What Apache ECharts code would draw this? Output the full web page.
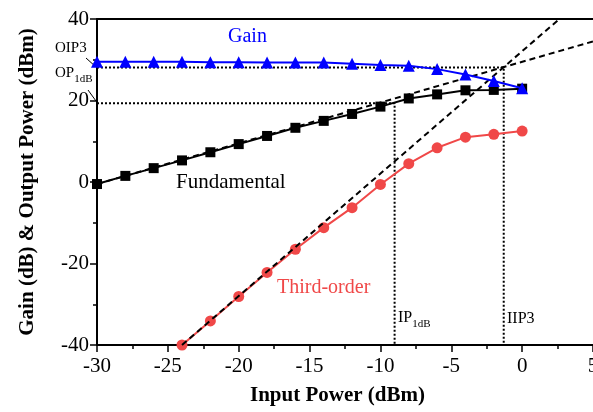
<!DOCTYPE html>
<html>
<head>
<meta charset="utf-8">
<script src="https://cdn.jsdelivr.net/npm/echarts@6/dist/echarts.min.js"></script>
<style>
  html, body { margin: 0; padding: 0; background: #fff; overflow: hidden; }
  #chart { width: 593px; height: 412px; }
</style>
</head>
<body>
<div id="chart"></div>
<script>
const inputPower = [-30, -28, -26, -24, -22, -20, -18, -16, -14, -12, -10, -8, -6, -4, -2, 0]
const gain = [29.5, 29.5, 29.5, 29.5, 29.4, 29.4, 29.3, 29.3, 29.3, 29.0, 28.7, 28.5, 27.7, 26.4, 24.8, 23.0]
const fundamental = [-0.5, 1.5, 3.4, 5.3, 7.3, 9.3, 11.3, 13.3, 15.0, 16.7, 18.5, 20.5, 21.5, 22.5, 22.6, 22.9]
const thirdX = [-24, -22, -20, -18, -16, -14, -12, -10, -8, -6, -4, -2, 0]
const thirdOrder = [-40, -34.1, -28.1, -22.2, -16.5, -11.2, -6.3, -0.6, 4.5, 8.4, 11.0, 11.7, 12.5]

// linear extrapolations (slope 1 and slope 3)
const fundFitX = [-30, 5]
const fundFitY = [-0.5, 34.5]
const thirdFitX = [-24, 2.63]
const thirdFitY = [-40, 40]

// intercept / compression points
const iip3 = -1.3
const oip3 = 28.1
const ip1db = -9
const op1db = 19.3

const xTicks = [-30, -25, -20, -15, -10, -5, 0, 5]
const yTicks = [-40, -20, 0, 20, 40]

const serif = '"Liberation Serif", "Times New Roman", serif'
const pairs = (xs, ys) => xs.map((x, i) => [x, ys[i]])

const chart = echarts.init(document.getElementById('chart'))

const baseAxis = {
  axisLine: { show: true, onZero: false, lineStyle: { color: '#000', width: 2 } },
  axisTick: { show: true, inside: false, length: 7, lineStyle: { color: '#000', width: 1.5 } },
  minorTick: { show: true, splitNumber: 2, length: 4, lineStyle: { color: '#000', width: 1.5 } },
  splitLine: { show: false },
  axisLabel: { color: '#000', fontFamily: serif, fontSize: 21 },
  nameTextStyle: { color: '#000', fontFamily: serif, fontSize: 21, fontWeight: 'bold' },
}

chart.setOption({
  animation: false,
  backgroundColor: '#fff',
  grid: { left: 97, right: 0, top: 19, bottom: 67, containLabel: false, outerBoundsMode: 'none' },
  xAxis: [{
    ...baseAxis,
    type: 'value',
    min: xTicks[0],
    max: xTicks[xTicks.length - 1],
    interval: 5,
    name: 'Input Power (dBm)',
    nameLocation: 'middle',
    nameGap: 40,
    nameTextStyle: { ...baseAxis.nameTextStyle, padding: [0, 15, 0, 0] },
    axisLabel: { ...baseAxis.axisLabel, margin: 11 },
  }, {
    type: 'value',
    position: 'top',
    min: xTicks[0],
    max: xTicks[xTicks.length - 1],
    axisLine: { show: true, onZero: false, lineStyle: { color: '#000', width: 2 } },
    axisTick: { show: false },
    axisLabel: { show: false },
    splitLine: { show: false },
  }],
  yAxis: {
    ...baseAxis,
    type: 'value',
    min: yTicks[0],
    max: yTicks[yTicks.length - 1],
    interval: 20,
    name: 'Gain (dB) & Output Power (dBm)',
    nameLocation: 'middle',
    nameGap: 59,
    axisLabel: { ...baseAxis.axisLabel, margin: 8 },
  },
  series: [
    {
      name: 'OP1dB guide',
      type: 'line',
      symbol: 'none',
      data: [[xTicks[0], op1db], [ip1db, op1db], [ip1db, yTicks[0]]],
      lineStyle: { color: '#000', width: 2, type: [2, 2] },
      z: 1,
    },
    {
      name: 'OIP3 guide',
      type: 'line',
      symbol: 'none',
      data: [[xTicks[0], oip3], [iip3, oip3], [iip3, yTicks[0]]],
      lineStyle: { color: '#000', width: 2, type: [2, 2] },
      z: 1,
    },
    {
      name: 'Third-order',
      type: 'line',
      data: pairs(thirdX, thirdOrder),
      symbol: 'circle',
      symbolSize: 11,
      itemStyle: { color: '#f04848' },
      lineStyle: { color: '#f04848', width: 2 },
      z: 2,
    },
    {
      name: 'Fundamental',
      type: 'line',
      data: pairs(inputPower, fundamental),
      symbol: 'rect',
      symbolSize: 10,
      itemStyle: { color: '#000' },
      lineStyle: { color: '#000', width: 2 },
      z: 2,
    },
    {
      name: 'Fundamental fit',
      type: 'line',
      symbol: 'none',
      data: pairs(fundFitX, fundFitY),
      lineStyle: { color: '#000', width: 2, type: [6, 4] },
      z: 3,
    },
    {
      name: 'Third-order fit',
      type: 'line',
      symbol: 'none',
      data: pairs(thirdFitX, thirdFitY),
      lineStyle: { color: '#000', width: 2, type: [6, 4] },
      z: 3,
    },
    {
      name: 'Gain',
      type: 'line',
      data: pairs(inputPower, gain),
      symbol: 'triangle',
      symbolSize: 12,
      itemStyle: { color: '#0000ff' },
      lineStyle: { color: '#0000ff', width: 2 },
      z: 4,
    },
  ],
  graphic: [
    { type: 'text', left: 228, top: 27, style: { text: 'Gain', font: '20px ' + serif, fill: '#0000ff' } },
    { type: 'text', left: 176, top: 172, style: { text: 'Fundamental', font: '21px ' + serif, fill: '#000' } },
    { type: 'text', left: 277, top: 278, style: { text: 'Third-order', font: '20px ' + serif, fill: '#f04848' } },
    { type: 'text', left: 55, top: 41, style: { text: 'OIP3', font: '15px ' + serif, fill: '#000' } },
    {
      type: 'text', left: 55, top: 66,
      style: {
        text: '{a|OP}{s|1dB}',
        rich: {
          a: { font: '15px ' + serif, fill: '#000', verticalAlign: 'bottom' },
          s: { font: '11px ' + serif, fill: '#000', verticalAlign: 'bottom', padding: [0, 0, -4, 0] },
        },
      },
    },
    { type: 'line', shape: { x1: 86, y1: 58, x2: 96, y2: 67 }, style: { stroke: '#000', lineWidth: 1 } },
    { type: 'line', shape: { x1: 88, y1: 90, x2: 96, y2: 101 }, style: { stroke: '#000', lineWidth: 1 } },
    {
      type: 'text', left: 398, top: 310,
      style: {
        text: '{a|IP}{s|1dB}',
        rich: {
          a: { font: '16px ' + serif, fill: '#000', verticalAlign: 'bottom' },
          s: { font: '11px ' + serif, fill: '#000', verticalAlign: 'bottom', padding: [0, 0, -4, 0] },
        },
      },
    },
    { type: 'text', left: 507, top: 311, style: { text: 'IIP3', font: '16px ' + serif, fill: '#000' } },
  ],
})
</script>
</body>
</html>
